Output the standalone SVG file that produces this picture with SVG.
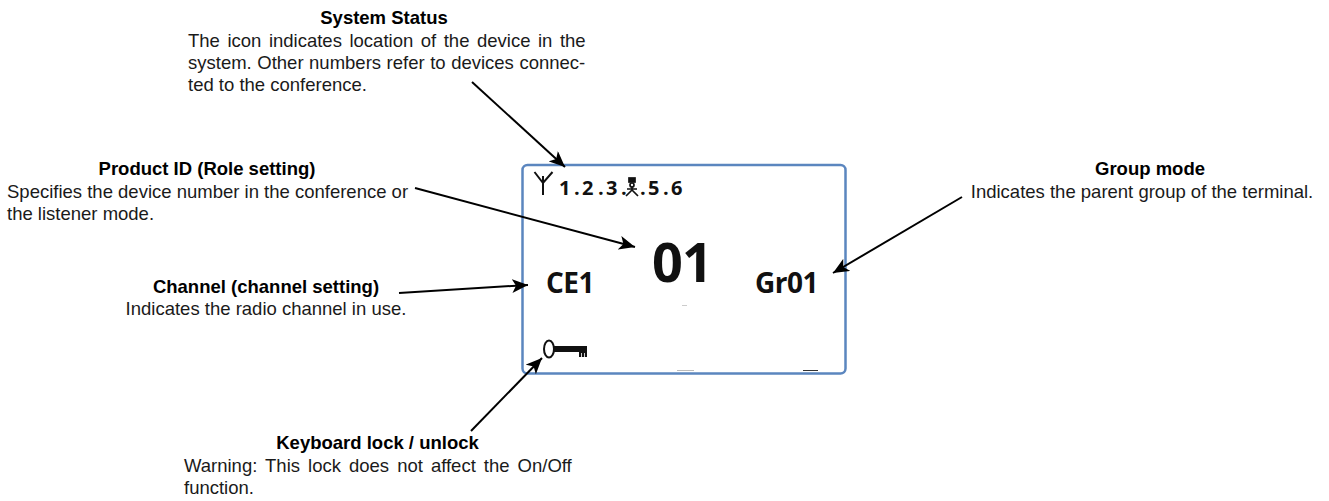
<svg xmlns="http://www.w3.org/2000/svg" width="1329" height="501" viewBox="0 0 1329 501">
<style>
text{font-family:"Liberation Sans",Arial,sans-serif;font-size:18.5px;fill:#1a1a1a}
.b{font-weight:bold;text-anchor:middle;fill:#000}
.m{text-anchor:middle}
.d{font-family:"Open Sans","Noto Sans",sans-serif;font-weight:bold;fill:#111}
.s{font-size:20px}
.l{font-size:28px;letter-spacing:-.5px}
.c{fill:none;stroke:#000;stroke-width:2}
</style>
<defs>
<marker id="a" markerUnits="userSpaceOnUse" markerWidth="18" markerHeight="14" refX="16" refY="7" orient="auto"><path d="M0 0L16 7L0 14L4 7Z" fill="#000"/></marker>
</defs>
<rect width="1329" height="501" fill="#fff"/>
<g id="display">
<rect x="522.500" y="165" width="323" height="208.500" rx="5" fill="#fff" stroke="#5b86bf" stroke-width="2.500"/>
<path d="M543 176V195M534.500 172L543 183L552.500 172" fill="none" stroke="#111" stroke-width="2"/>
<text class="d s" x="559 574 582 598 606 621" y="195">1.2.3.</text>
<g fill="none" stroke="#111" stroke-width="1.700"><rect x="629" y="178" width="6" height="4" fill="#111"/><circle cx="632" cy="185" r="2"/><path d="M632 187V190L626 196M632 190L638 196M627 189H637"/></g>
<text class="d s" x="640 648 663 671" y="195">.5.6</text>
<text class="d" x="652" y="282" style="font-size:54px;letter-spacing:-1px">01</text>
<text class="d l" x="546" y="293">CE1</text>
<text class="d l" x="755" y="293">Gr01</text>
<ellipse cx="549" cy="349" rx="5" ry="8.500" fill="#fff" stroke="#111" stroke-width="2"/>
<path d="M554 346H587V357H579V352H554Z" fill="#111"/>
<path d="M581.500 353V357M584.500 353V357" stroke="#fff" stroke-width=".8"/>
<path d="M677 370.500H694" stroke="#bbb" stroke-width="1"/>
<path d="M803 370.500H818" stroke="#333" stroke-width="1"/>
<path d="M682 305.500H687" stroke="#ccc" stroke-width="1"/>
</g>
<g id="connectors">
<path class="c" d="M472 82L565 167" marker-end="url(#a)"/>
<path class="c" d="M415 188L635 247" marker-end="url(#a)"/>
<path class="c" d="M399 293L528 285" marker-end="url(#a)"/>
<path class="c" d="M962 197L833 273" marker-end="url(#a)"/>
<path class="c" d="M471 431L542 358" marker-end="url(#a)"/>
</g>
<g id="system-status">
<text class="b" x="384" y="24">System Status</text>
<text x="188" y="47" style="word-spacing:2.400px">The icon indicates location of the device in the</text>
<text x="188" y="69" style="word-spacing:.4px">system. Other numbers refer to devices connec-</text>
<text x="188" y="91">ted to the conference.</text>
</g>
<g id="product-id">
<text class="b" x="207" y="175">Product ID (Role setting)</text>
<text x="7" y="198">Specifies the device number in the conference or</text>
<text x="7" y="220">the listener mode.</text>
</g>
<g id="channel">
<text class="b" x="266" y="293">Channel (channel setting)</text>
<text class="m" x="266" y="315">Indicates the radio channel in use.</text>
</g>
<g id="group-mode">
<text class="b" x="1150" y="175">Group mode</text>
<text class="m" x="1142" y="198">Indicates the parent group of the terminal.</text>
</g>
<g id="keyboard-lock">
<text class="b" x="377.500" y="449">Keyboard lock / unlock</text>
<text x="184" y="472" style="word-spacing:2.900px">Warning: This lock does not affect the On/Off</text>
<text x="184" y="494">function.</text>
</g>
</svg>
